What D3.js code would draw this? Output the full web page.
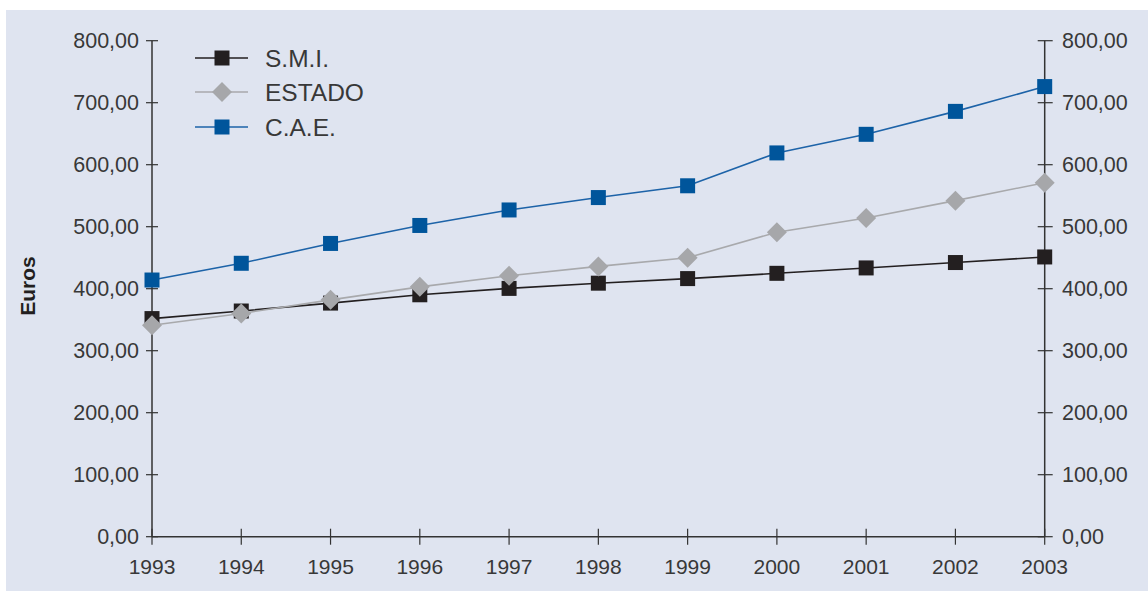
<!DOCTYPE html>
<html><head><meta charset="utf-8">
<script src="https://cdn.jsdelivr.net/npm/d3@7"></script>
<style>
html,body{margin:0;padding:0;background:#fff;}
svg text{font-family:"Liberation Sans",Arial,sans-serif;}
</style></head>
<body>
<svg id="chart" width="1148" height="591"></svg>
<script>
const years = [1993,1994,1995,1996,1997,1998,1999,2000,2001,2002,2003];
const smi = [351.8,364.0,376.8,390.2,400.5,408.9,416.3,424.8,433.5,442.2,451.2];
const estado = [341,360,382,403,421,436,450,491,514,542,571];
const cae = [414,441,473,502,527,547,566,619,649,686,726];
const yTicks = [0,100,200,300,400,500,600,700,800];
const seriesNames = ["S.M.I.","ESTADO","C.A.E."];

const svg = d3.select("#chart");
svg.append("rect").attr("x",6).attr("y",10).attr("width",1142).attr("height",581).attr("fill","#dfe4f0");

const x = d3.scaleLinear().domain([1993,2003]).range([152,1044.7]);
const y = d3.scaleLinear().domain([0,800]).range([536.7,40.7]);
const fmt = v => d3.format(".2f")(v).replace(".",",");
const axisColor = "#333";
const textColor = "#383838";

// left axis
const gL = svg.append("g");
gL.append("line").attr("x1",x(1993)).attr("x2",x(1993)).attr("y1",y(0)).attr("y2",y(800)).attr("stroke",axisColor).attr("stroke-width",1.5);
yTicks.forEach(t=>{
  gL.append("line").attr("x1",x(1993)-6).attr("x2",x(1993)+6).attr("y1",y(t)).attr("y2",y(t)).attr("stroke",axisColor).attr("stroke-width",1.2);
  gL.append("text").attr("x",139).attr("y",y(t)).attr("dy","0.35em").attr("text-anchor","end").attr("font-size",21.5).attr("fill",textColor).text(fmt(t));
});
// right axis
const gR = svg.append("g");
gR.append("line").attr("x1",x(2003)).attr("x2",x(2003)).attr("y1",y(0)).attr("y2",y(800)).attr("stroke",axisColor).attr("stroke-width",1.5);
yTicks.forEach(t=>{
  gR.append("line").attr("x1",x(2003)-7).attr("x2",x(2003)+8).attr("y1",y(t)).attr("y2",y(t)).attr("stroke",axisColor).attr("stroke-width",1.2);
  gR.append("text").attr("x",1062).attr("y",y(t)).attr("dy","0.35em").attr("text-anchor","start").attr("font-size",21.5).attr("fill",textColor).text(fmt(t));
});
// bottom axis
const gB = svg.append("g");
gB.append("line").attr("x1",x(1993)).attr("x2",x(2003)).attr("y1",y(0)).attr("y2",y(0)).attr("stroke",axisColor).attr("stroke-width",1.5);
years.forEach(yr=>{
  gB.append("line").attr("x1",x(yr)).attr("x2",x(yr)).attr("y1",y(0)-8).attr("y2",y(0)+8).attr("stroke",axisColor).attr("stroke-width",1.2);
  gB.append("text").attr("x",x(yr)).attr("y",y(0)+30).attr("dy","0.35em").attr("text-anchor","middle").attr("font-size",21).attr("fill",textColor).text(yr);
});

// y label
svg.append("text").attr("transform","translate(35,286) rotate(-90)").attr("text-anchor","middle")
  .attr("font-size",21).attr("font-weight","bold").attr("fill","#231f20").text("Euros");

const line = d3.line().x((d,i)=>x(years[i])).y(d=>y(d));
const series = [
  {name:seriesNames[0], data:smi, line:"#231f20", fill:"#231f20", shape:"square"},
  {name:seriesNames[1], data:estado, line:"#a8a9ac", fill:"#a6a7aa", shape:"diamond"},
  {name:seriesNames[2], data:cae, line:"#1d63a8", fill:"#00559b", shape:"square"}
];
function marker(g, cx, cy, s){
  if(s.shape==="square"){
    g.append("rect").attr("x",cx-7.5).attr("y",cy-7.5).attr("width",15).attr("height",15).attr("fill",s.fill);
  } else {
    g.append("path").attr("d",`M${cx},${cy-10}L${cx+10},${cy}L${cx},${cy+10}L${cx-10},${cy}Z`).attr("fill",s.fill);
  }
}
series.forEach(s=>{
  svg.append("path").attr("d",line(s.data)).attr("fill","none").attr("stroke",s.line).attr("stroke-width",1.6);
});
series.forEach(s=>{
  const g = svg.append("g");
  s.data.forEach((v,i)=>marker(g,x(years[i]),y(v),s));
});

// legend
const legY = [58,92,127];
series.forEach((s,i)=>{
  const g = svg.append("g");
  g.append("line").attr("x1",195).attr("x2",248).attr("y1",legY[i]).attr("y2",legY[i]).attr("stroke",s.line).attr("stroke-width",1.6);
  marker(g,222,legY[i],s);
  g.append("text").attr("x",265).attr("y",legY[i]).attr("dy","0.35em").attr("font-size",24.5).attr("fill",textColor).text(s.name);
});
</script>
</body></html>
